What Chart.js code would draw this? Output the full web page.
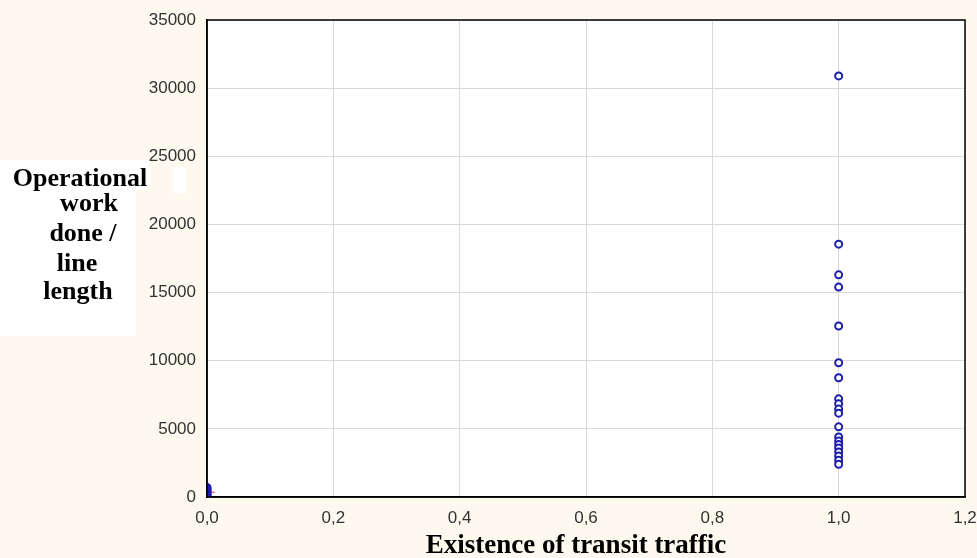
<!DOCTYPE html>
<html lang="en">
<head>
<meta charset="UTF-8">
<title>Operational work vs transit traffic</title>
<style>
  html, body { margin: 0; padding: 0; background: #fdf9ef; }
  #wrap { width: 977px; height: 558px; }
</style>
</head>
<body>
<div id="wrap"><canvas id="myChart" width="977" height="558"></canvas></div>
<script src="https://cdn.jsdelivr.net/npm/chart.js"></script>
<script>
  const transitYes = [30900, 18550, 16300, 15400, 12550, 9850, 8750, 7200, 6850, 6450, 6150,
    5150, 4400, 4100, 3850, 3600, 3300, 3000, 2700, 2400];
  const transitNo = [700, 600, 500, 400, 300, 200, 100, 0];
  const oddPoint = [{x: 0.006, y: 350}];
  const xTicks = [0, 0.2, 0.4, 0.6, 0.8, 1.0, 1.2];
  const yTitleLines = ['Operational', 'work', 'done /', 'line', 'length'];
  const xTitle = 'Existence of transit traffic';

  const pts = (x, arr) => arr.map(v => ({x: x, y: v}));

  const decor = {
    id: 'decor',
    beforeDraw(chart) {
      const c = chart.ctx, a = chart.chartArea;
      c.save();
      c.fillStyle = '#fdf9ef';
      c.fillRect(0, 0, chart.width, chart.height);
      c.fillStyle = '#ffffff';
      c.fillRect(a.left, a.top, a.right - a.left, a.bottom - a.top);
      // white box behind the y title
      c.fillRect(0, 160, 150, 30);
      c.fillRect(0, 188, 136, 148);
      c.fillRect(173, 167, 13, 26);
      c.restore();
    },
    afterDatasetsDraw(chart) {
      const c = chart.ctx, a = chart.chartArea;
      c.save();
      c.strokeStyle = '#000';
      c.lineWidth = 1.5;
      c.strokeRect(a.left, a.top, a.right - a.left, a.bottom - a.top);
      c.fillStyle = '#000';
      c.font = 'bold 26px "Liberation Serif", "Times New Roman", serif';
      c.textAlign = 'center';
      c.textBaseline = 'alphabetic';
      const pos = [[80, 186], [89, 211], [83, 241], [77, 271], [78, 299]];
      yTitleLines.forEach((t, i) => c.fillText(t, pos[i][0], pos[i][1]));
      c.font = 'bold 27px "Liberation Serif", "Times New Roman", serif';
      c.fillText(xTitle, 576, 553);
      c.restore();
    }
  };

  new Chart(document.getElementById('myChart'), {
    type: 'scatter',
    data: {
      datasets: [
        { data: pts(1, transitYes), borderColor: '#1c1cae', backgroundColor: '#ffffff',
          pointRadius: 3.5, borderWidth: 2 },
        { data: pts(0, transitNo), borderColor: '#1c1cae', backgroundColor: '#2020c0',
          pointRadius: 3.5, borderWidth: 2 },
        { data: oddPoint, borderColor: '#e03050', pointStyle: 'line', pointRadius: 4, borderWidth: 1 }
      ]
    },
    options: {
      responsive: false,
      animation: false,
      layout: { padding: { left: 0, right: 12, top: 20, bottom: 0 } },
      plugins: { legend: { display: false }, tooltip: { enabled: false } },
      scales: {
        x: {
          type: 'linear', min: 0, max: 1.2,
          afterBuildTicks: s => { s.ticks = xTicks.map(v => ({value: v})); },
          afterFit: s => { s.height = 61; s.paddingLeft = 0; s.paddingRight = 0; },
          grid: { color: '#d9d9d9', drawTicks: false },
          border: { color: '#000', width: 1.5 },
          ticks: {
            padding: 11, color: '#333',
            font: { family: '"Liberation Sans", Arial, sans-serif', size: 17 },
            callback: v => v.toFixed(1).replace('.', ',')
          }
        },
        y: {
          min: 0, max: 35000,
          afterFit: s => { s.width = 207; s.paddingTop = 0; s.paddingBottom = 0; },
          grid: { color: '#d9d9d9', drawTicks: false },
          border: { color: '#000', width: 1.5 },
          ticks: {
            stepSize: 5000, padding: 11, color: '#333',
            font: { family: '"Liberation Sans", Arial, sans-serif', size: 17 },
            callback: v => String(v)
          }
        }
      }
    },
    plugins: [decor]
  });
</script>
</body>
</html>
